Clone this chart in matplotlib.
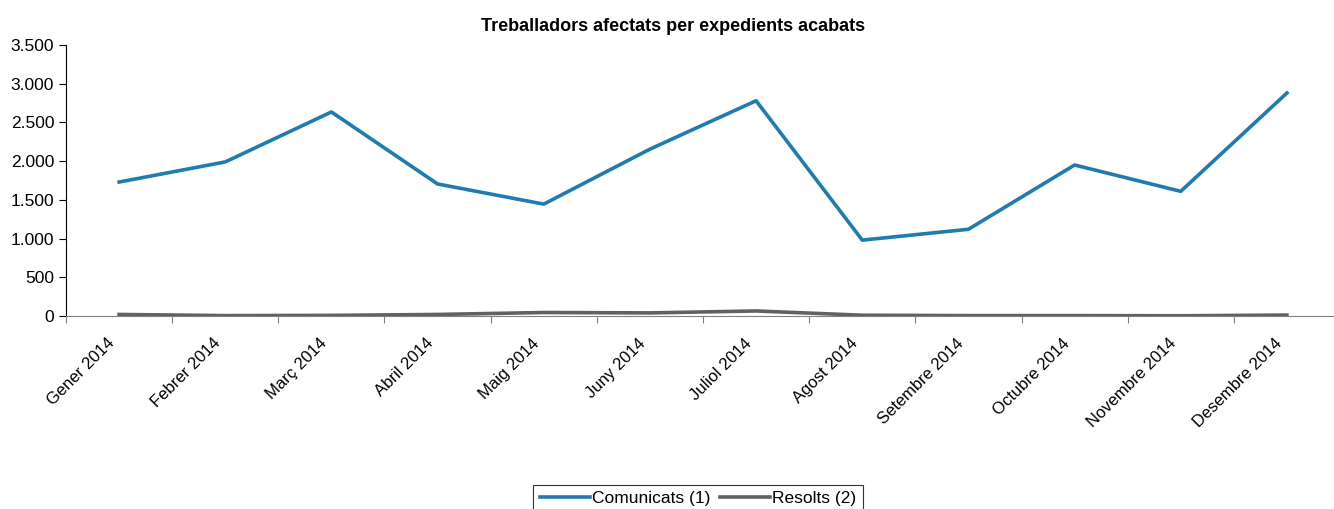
import numpy as np
import matplotlib.pyplot as plt
from matplotlib.ticker import FuncFormatter
from matplotlib.transforms import ScaledTranslation

plt.rcParams['font.family'] = ['Liberation Sans', 'DejaVu Sans']

mesos = ["Gener 2014", "Febrer 2014", "Març 2014", "Abril 2014", "Maig 2014", "Juny 2014",
         "Juliol 2014", "Agost 2014", "Setembre 2014", "Octubre 2014", "Novembre 2014", "Desembre 2014"]
comunicats = [1730, 1990, 2635, 1705, 1445, 2155, 2780, 980, 1120, 1950, 1610, 2880]
resolts = [20, 5, 8, 20, 45, 40, 65, 10, 5, 5, 3, 12]

fig = plt.figure(figsize=(13.34, 5.09), dpi=100)
ax = fig.add_axes([66/1334, 1-316/509, (1340-66)/1334, (316-45)/509])

x = np.arange(len(mesos))
l1, = ax.plot(x, comunicats, color='#1F7BB0', lw=2.6, label='Comunicats (1)')
l2, = ax.plot(x, resolts, color='#616161', lw=2.6, label='Resolts (2)')

ax.set_xlim(-0.5, len(mesos)-0.5)
ax.set_ylim(0, 3500)
ax.set_yticks(np.arange(0, 3501, 500))
ax.yaxis.set_major_formatter(FuncFormatter(lambda v, p: f"{int(v):,}".replace(',', '.')))
ax.set_xticks(np.arange(-0.5, len(mesos), 1))
ax.set_xticklabels([])
ax.set_xticks(x, minor=True)
ax.set_xticklabels(mesos, minor=True, rotation=45, ha='right', va='center',
                   rotation_mode='anchor', fontsize=12)
ax.tick_params(axis='x', which='minor', length=0, pad=18)
ax.tick_params(axis='x', which='major', length=5, color='#808080', direction='out')
ax.tick_params(axis='y', length=5, labelsize=12.5, direction='out')

# etiquetes una mica a l'esquerra, com a l'original
desp = ScaledTranslation(-7/100, 0, fig.dpi_scale_trans)
for lbl in ax.get_xticklabels(minor=True):
    lbl.set_transform(lbl.get_transform() + desp)

for s in ['top', 'right']:
    ax.spines[s].set_visible(False)
ax.spines['bottom'].set_color('#808080')
ax.spines['left'].set_color('black')

# títol centrat a la figura
fig.text(673/1334, 1-31/509, "Treballadors afectats per expedients acabats",
         fontsize=13, fontweight='bold', ha='center', va='baseline')

leg = fig.legend(handles=[l1, l2], loc='upper center', bbox_to_anchor=(698/1334, 1-485/509), ncol=2,
                 frameon=True, fancybox=False, fontsize=12.5, handlelength=2.9, handletextpad=0.12,
                 columnspacing=0.55, borderpad=0.35, borderaxespad=0)
leg.get_frame().set_edgecolor('black')
leg.get_frame().set_linewidth(0.8)

fig.savefig('out.png', dpi=100)
